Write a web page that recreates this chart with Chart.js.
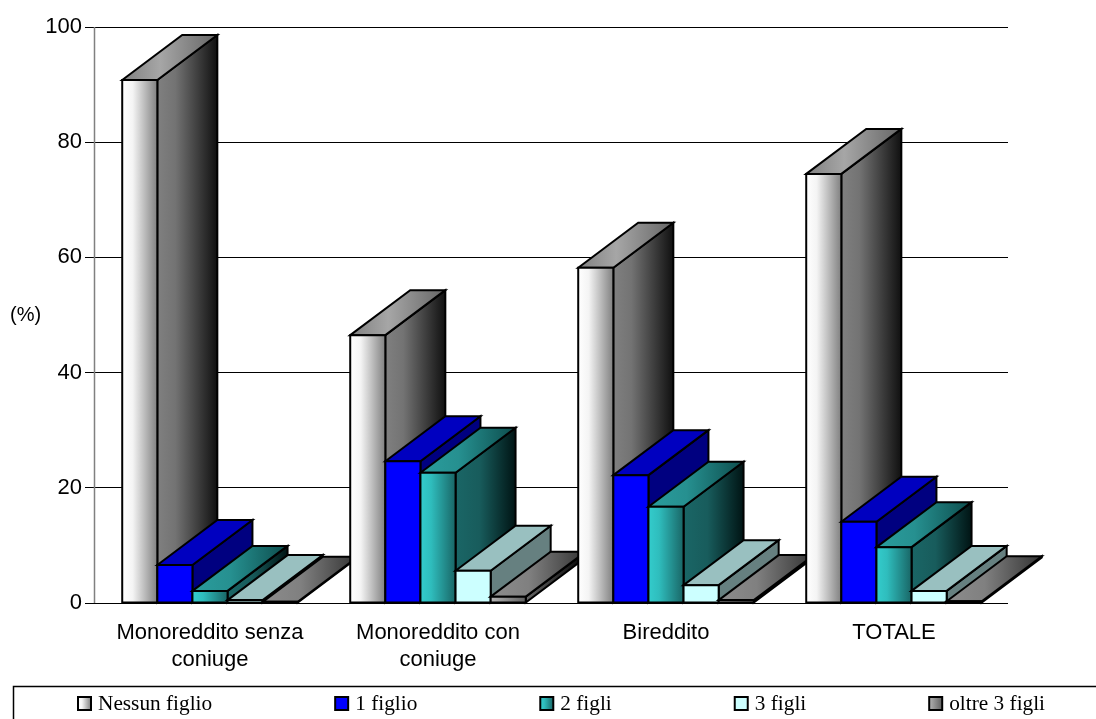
<!DOCTYPE html>
<html>
<head>
<meta charset="utf-8">
<style>
  html, body { margin: 0; padding: 0; background: #fff; overflow: hidden; }
  canvas { display: block; }
</style>
<script src="https://cdn.jsdelivr.net/npm/chart.js@4"></script>
</head>
<body>
<canvas id="chart" width="1096" height="719"></canvas>
<script>
var categories = [['Monoreddito senza', 'coniuge'], ['Monoreddito con', 'coniuge'], 'Bireddito', 'TOTALE'];
var seriesNames = ['Nessun figlio', '1 figlio', '2 figli', '3 figli', 'oltre 3 figli'];
var nessunFiglio = [90.8, 46.5, 58.2, 74.5];
var unFiglio = [6.6, 24.6, 22.2, 14.1];
var dueFigli = [2.1, 22.6, 16.7, 9.7];
var treFigli = [0.5, 5.6, 3.1, 2.1];
var oltreTreFigli = [0.2, 1.1, 0.5, 0.3];
var yTicks = [0, 20, 40, 60, 80, 100];

// face colours of every series: [stop, colour] pairs, left to right
var faces = [
    {
        front: [[0, '#ffffff'], [0.3, '#f4f4f4'], [1, '#808080']],
        top: [[0, '#808080'], [0.4, '#a6a6a6'], [1, '#666666']],
        side: [[0, '#808080'], [0.3, '#737373'], [1, '#101010']]
    },
    {
        front: [[0, '#0000ff'], [1, '#0000ff']],
        top: [[0, '#0000c0'], [1, '#0000c0']],
        side: [[0, '#000080'], [1, '#000080']]
    },
    {
        front: [[0, '#33cccc'], [0.3, '#2fbdbd'], [1, '#196666']],
        top: [[0, '#2a9d9d'], [0.4, '#269090'], [1, '#0d4d4d']],
        side: [[0, '#1a6666'], [0.4, '#185c5c'], [1, '#001414']]
    },
    {
        front: [[0, '#ccffff'], [1, '#ccffff']],
        top: [[0, '#99c0c0'], [1, '#99c0c0']],
        side: [[0, '#668080'], [1, '#668080']]
    },
    {
        front: [[0, '#b4b4b4'], [1, '#606060']],
        top: [[0, '#8c8c8c'], [0.4, '#808080'], [1, '#333333']],
        side: [[0, '#666666'], [1, '#000000']]
    }
];

var depthX = 60;
var depthY = 45;

function gradient(ctx, x0, x1, stops) {
    var g = ctx.createLinearGradient(x0, 0, x1, 0);
    stops.forEach(function (s) { g.addColorStop(s[0], s[1]); });
    return g;
}

function face(ctx, pts, fill) {
    ctx.beginPath();
    ctx.moveTo(pts[0][0], pts[0][1]);
    for (var i = 1; i < pts.length; i++) ctx.lineTo(pts[i][0], pts[i][1]);
    ctx.closePath();
    ctx.fillStyle = fill;
    ctx.fill();
    ctx.stroke();
}

// the bars get their depth here, left to right so nearer bars cover the older ones
var bars3d = {
    id: 'bars3d',
    afterDatasetsDraw: function (chart) {
        var ctx = chart.ctx;
        ctx.save();
        ctx.strokeStyle = '#000';
        ctx.lineWidth = 2;
        ctx.lineJoin = 'miter';
        categories.forEach(function (c, j) {
            chart.data.datasets.forEach(function (ds, i) {
                var bar = chart.getDatasetMeta(i).data[j];
                var l = bar.x - bar.width / 2, r = bar.x + bar.width / 2;
                var t = bar.y, b = bar.base;
                var f = faces[i];
                face(ctx, [[r, t], [r + depthX, t - depthY], [r + depthX, b - depthY], [r, b]],
                    gradient(ctx, r, r + depthX, f.side));
                face(ctx, [[l, t], [l + depthX, t - depthY], [r + depthX, t - depthY], [r, t]],
                    gradient(ctx, l, r + depthX, f.top));
                face(ctx, [[l, t], [r, t], [r, b], [l, b]],
                    gradient(ctx, l, r, f.front));
            });
        });
        ctx.restore();
    }
};

// gray value axis, "(%)" and the boxed legend under the chart
var furniture = {
    id: 'furniture',
    beforeDatasetsDraw: function (chart) {
        var ctx = chart.ctx, y = chart.scales.y;
        ctx.save();
        ctx.strokeStyle = '#808080';
        ctx.lineWidth = 1.5;
        ctx.beginPath();
        ctx.moveTo(94.5, y.getPixelForValue(100));
        ctx.lineTo(94.5, y.getPixelForValue(0));
        ctx.stroke();
        ctx.restore();
    },
    afterDraw: function (chart) {
        var ctx = chart.ctx;
        ctx.save();
        ctx.fillStyle = '#000';
        ctx.textBaseline = 'alphabetic';
        ctx.font = '20px "Liberation Sans"';
        ctx.fillText('(%)', 10, 321);

        ctx.strokeStyle = '#000';
        ctx.lineWidth = 1.5;
        ctx.beginPath();
        ctx.moveTo(13.5, 719);
        ctx.lineTo(13.5, 686.5);
        ctx.lineTo(1096, 686.5);
        ctx.stroke();

        ctx.font = '21.3px "Liberation Serif"';
        var x = 78;
        seriesNames.forEach(function (name, i) {
            ctx.lineWidth = 2;
            ctx.fillStyle = gradient(ctx, x, x + 13, faces[i].front);
            ctx.fillRect(x, 697, 13, 13);
            ctx.strokeRect(x, 697, 13, 13);
            ctx.fillStyle = '#000';
            ctx.fillText(name, x + 20, 710);
            x += 20 + ctx.measureText(name).width + 123;
        });
        ctx.restore();
    }
};

new Chart(document.getElementById('chart').getContext('2d'), {
    type: 'bar',
    data: {
        labels: categories,
        datasets: [
            { label: seriesNames[0], data: nessunFiglio, backgroundColor: '#c0c0c0' },
            { label: seriesNames[1], data: unFiglio, backgroundColor: '#0000ff' },
            { label: seriesNames[2], data: dueFigli, backgroundColor: '#33cccc' },
            { label: seriesNames[3], data: treFigli, backgroundColor: '#ccffff' },
            { label: seriesNames[4], data: oltreTreFigli, backgroundColor: '#808080' }
        ]
    },
    options: {
        responsive: false,
        animation: false,
        layout: { padding: { left: 0, top: 27, right: 88, bottom: 0 } },
        datasets: { bar: { categoryPercentage: 0.77, barPercentage: 1 } },
        plugins: { legend: { display: false }, tooltip: { enabled: false } },
        scales: {
            x: {
                grid: { display: false },
                border: { display: false },
                ticks: {
                    color: '#000',
                    font: { family: '"Liberation Sans"', size: 22, lineHeight: 1.23 },
                    maxRotation: 0,
                    autoSkip: false,
                    padding: 8
                },
                afterFit: function (s) { s.height = 116; }
            },
            y: {
                min: 0,
                max: 100,
                afterBuildTicks: function (s) { s.ticks = yTicks.map(function (v) { return { value: v }; }); },
                grid: { color: '#000', lineWidth: 1, tickLength: 11 },
                border: { display: false },
                ticks: {
                    color: '#000',
                    font: { family: '"Liberation Sans"', size: 22 },
                    padding: 3
                },
                afterFit: function (s) { s.width = 96; }
            }
        }
    },
    plugins: [furniture, bars3d]
});
</script>
</body>
</html>
